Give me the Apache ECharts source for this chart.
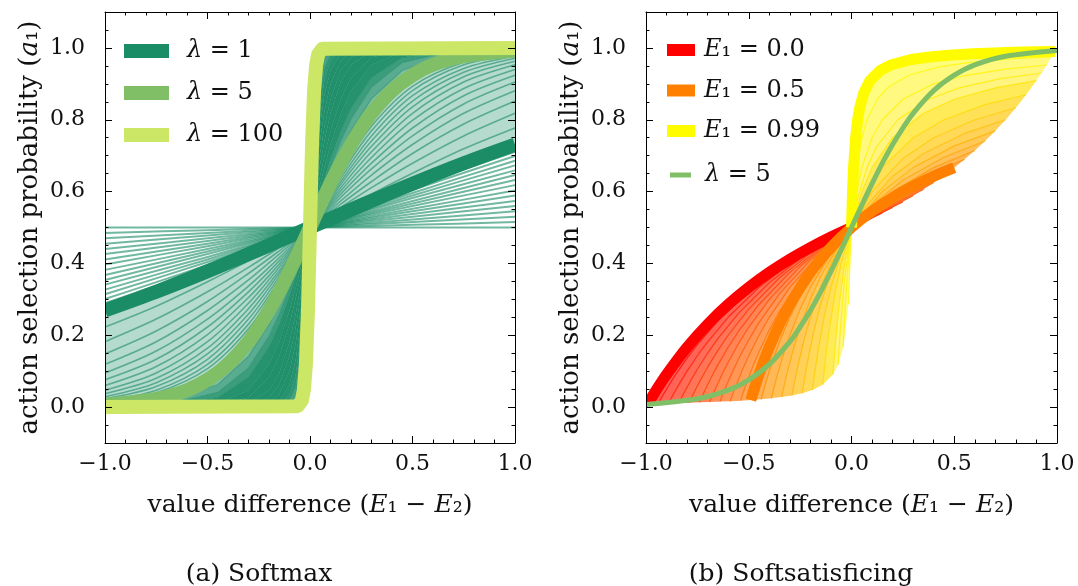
<!DOCTYPE html>
<html><head><meta charset="utf-8">
<script src="https://cdn.jsdelivr.net/npm/echarts@6/dist/echarts.min.js"></script>
<style>html,body{margin:0;padding:0;background:#fff}#c{width:1078px;height:586px}</style>
</head><body><div id="c"></div>
<script>
// ================= DATA =================
// ---- (a) Softmax ----
// thin curves, small lambda (nearly linear), sampled at xA
const xA = [-1, -0.5, 0, 0.5, 1];
const softLow = [
  [0.5,0.5,0.5,0.5,0.5],
  [0.485,0.4925,0.5,0.5075,0.515],
  [0.47,0.485,0.5,0.515,0.53],
  [0.455,0.4775,0.5,0.5225,0.545],
  [0.44,0.47,0.5,0.53,0.56],
  [0.426,0.4625,0.5,0.5375,0.574],
  [0.411,0.455,0.5,0.545,0.589],
  [0.397,0.448,0.5,0.552,0.603],
  [0.382,0.44,0.5,0.56,0.618],
  [0.368,0.433,0.5,0.567,0.632],
  [0.354,0.426,0.5,0.574,0.646],
  [0.341,0.418,0.5,0.582,0.659],
  [0.327,0.411,0.5,0.589,0.673],
  [0.314,0.404,0.5,0.596,0.686],
  [0.301,0.396,0.5,0.604,0.699],
  [0.289,0.389,0.5,0.611,0.711]
];
// thin curves between lambda=1 and lambda=5
const xB = [-1,-0.75,-0.5,-0.3,-0.15,0,0.15,0.3,0.5,0.75,1];
const softMid = [
  [0.223,0.281,0.349,0.407,0.453,0.5,0.547,0.593,0.651,0.719,0.777],
  [0.182,0.245,0.321,0.389,0.444,0.5,0.556,0.611,0.679,0.755,0.818],
  [0.148,0.212,0.294,0.372,0.435,0.5,0.565,0.628,0.706,0.788,0.852],
  [0.119,0.182,0.269,0.354,0.426,0.5,0.574,0.646,0.731,0.818,0.881],
  [0.095,0.156,0.245,0.337,0.416,0.5,0.584,0.663,0.755,0.844,0.905],
  [0.076,0.133,0.223,0.321,0.407,0.5,0.593,0.679,0.777,0.867,0.924],
  [0.06,0.113,0.202,0.305,0.398,0.5,0.602,0.695,0.798,0.887,0.94],
  [0.047,0.095,0.182,0.289,0.389,0.5,0.611,0.711,0.818,0.905,0.953],
  [0.037,0.08,0.164,0.274,0.38,0.5,0.62,0.726,0.836,0.92,0.963],
  [0.029,0.068,0.148,0.259,0.372,0.5,0.628,0.741,0.852,0.932,0.971],
  [0.023,0.057,0.133,0.245,0.363,0.5,0.637,0.755,0.867,0.943,0.977],
  [0.018,0.047,0.119,0.231,0.354,0.5,0.646,0.769,0.881,0.953,0.982],
  [0.014,0.04,0.107,0.218,0.346,0.5,0.654,0.782,0.893,0.96,0.986],
  [0.011,0.033,0.095,0.206,0.337,0.5,0.663,0.794,0.905,0.967,0.989],
  [0.009,0.028,0.085,0.194,0.329,0.5,0.671,0.806,0.915,0.972,0.991]
];
// thin curves between lambda=5 and lambda=100 (steep)
const xC = [-1,-0.7,-0.45,-0.3,-0.2,-0.15,-0.1,-0.07,-0.04,-0.02,0,0.02,0.04,0.07,0.1,0.15,0.2,0.3,0.45,0.7,1];
const softHigh = [
  [0.002,0.015,0.063,0.142,0.231,0.289,0.354,0.397,0.44,0.47,0.5,0.53,0.56,0.603,0.646,0.711,0.769,0.858,0.937,0.985,0.998],
  [0.001,0.007,0.041,0.109,0.198,0.259,0.332,0.38,0.43,0.465,0.5,0.535,0.57,0.62,0.668,0.741,0.802,0.891,0.959,0.993,0.999],
  [0,0.004,0.027,0.083,0.168,0.231,0.31,0.364,0.421,0.46,0.5,0.54,0.579,0.636,0.69,0.769,0.832,0.917,0.973,0.996,1],
  [0,0.001,0.011,0.047,0.119,0.182,0.269,0.332,0.401,0.45,0.5,0.55,0.599,0.668,0.731,0.818,0.881,0.953,0.989,0.999,1],
  [0,0,0.005,0.027,0.083,0.142,0.231,0.302,0.382,0.44,0.5,0.56,0.618,0.698,0.769,0.858,0.917,0.973,0.995,1,1],
  [0,0,0.001,0.011,0.047,0.095,0.182,0.259,0.354,0.426,0.5,0.574,0.646,0.741,0.818,0.905,0.953,0.989,0.999,1,1],
  [0,0,0,0.005,0.027,0.063,0.142,0.221,0.327,0.411,0.5,0.589,0.673,0.779,0.858,0.937,0.973,0.995,1,1,1],
  [0,0,0,0.001,0.012,0.036,0.1,0.177,0.293,0.392,0.5,0.608,0.707,0.823,0.9,0.964,0.988,0.999,1,1,1],
  [0,0,0,0,0.005,0.017,0.063,0.131,0.254,0.368,0.5,0.632,0.746,0.869,0.937,0.983,0.995,1,1,1,1],
  [0,0,0,0,0.001,0.007,0.036,0.09,0.211,0.341,0.5,0.659,0.789,0.91,0.964,0.993,0.999,1,1,1,1],
  [0,0,0,0,0,0.002,0.018,0.057,0.168,0.31,0.5,0.69,0.832,0.943,0.982,0.998,1,1,1,1,1],
  [0,0,0,0,0,0.001,0.007,0.029,0.119,0.269,0.5,0.731,0.881,0.971,0.993,0.999,1,1,1,1,1],
  [0,0,0,0,0,0,0.002,0.01,0.069,0.214,0.5,0.786,0.931,0.99,0.998,1,1,1,1,1,1],
  [0,0,0,0,0,0,0,0.004,0.039,0.168,0.5,0.832,0.961,0.996,1,1,1,1,1,1,1]
];
// highlighted curves
const xL1 = [-1,-0.75,-0.5,-0.25,0,0.25,0.5,0.75,1];
const yL1 = [0.269,0.321,0.378,0.438,0.5,0.562,0.622,0.679,0.731];
const xL5 = [-1,-0.75,-0.6,-0.5,-0.4,-0.3,-0.25,-0.2,-0.15,-0.1,-0.05,0,0.05,0.1,0.15,0.2,0.25,0.3,0.4,0.5,0.6,0.75,1];
const yL5 = [0.007,0.023,0.047,0.076,0.119,0.182,0.223,0.269,0.321,0.378,0.438,0.5,0.562,0.622,0.679,0.731,0.777,0.818,0.881,0.924,0.953,0.977,0.993];
const xL100 = [-1,-0.06,-0.04,-0.03,-0.02,-0.01,0,0.01,0.02,0.03,0.04,0.06,1];
const yL100 = [0,0.0025,0.018,0.047,0.119,0.269,0.5,0.731,0.881,0.953,0.982,0.9975,1];

// ---- (b) Softsatisficing ----
const e1Thin = [0.05,0.1,0.15,0.2,0.25,0.3,0.35,0.4,0.45,0.55,0.6,0.65,0.7,0.75,0.8,0.85,0.9,0.925,0.95,0.975];
const e2Grid = [0.99,0.98,0.96,0.93,0.9,0.85,0.8,0.7,0.55,0.4,0.2,0];
const satThin = [
  [0.0104,0.0206,0.0404,0.0686,0.0952,0.1364,0.1739,0.24,0.3214,0.3871,0.4571,0.5128],
  [0.011,0.0217,0.0426,0.0722,0.1,0.1429,0.1818,0.25,0.3333,0.4,0.4706,0.5263],
  [0.0116,0.023,0.0449,0.0761,0.1053,0.15,0.1905,0.2609,0.3462,0.4138,0.4848,0.5405],
  [0.0123,0.0244,0.0476,0.0805,0.1111,0.1579,0.2,0.2727,0.36,0.4286,0.5,0.5556],
  [0.0132,0.026,0.0506,0.0854,0.1176,0.1667,0.2105,0.2857,0.375,0.4444,0.5161,0.5714],
  [0.0141,0.0278,0.0541,0.0909,0.125,0.1765,0.2222,0.3,0.3913,0.4615,0.5333,0.5882],
  [0.0152,0.0299,0.058,0.0972,0.1333,0.1875,0.2353,0.3158,0.4091,0.48,0.5517,0.6061],
  [0.0164,0.0323,0.0625,0.1045,0.1429,0.2,0.25,0.3333,0.4286,0.5,0.5714,0.625],
  [0.0179,0.0351,0.0678,0.1129,0.1538,0.2143,0.2667,0.3529,0.45,0.5217,0.5926,0.6452],
  [0.0217,0.0426,0.0816,0.1346,0.1818,0.25,0.3077,0.4,0.5,0.5714,0.64,0.6897],
  [0.0244,0.0476,0.0909,0.1489,0.2,0.2727,0.3333,0.4286,0.5294,0.6,0.6667,0.7143],
  [0.0278,0.0541,0.1026,0.1667,0.2222,0.3,0.3636,0.4615,0.5625,0.6316,0.6957,0.7407],
  [0.0323,0.0625,0.1176,0.1892,0.25,0.3333,0.4,0.5,0.6,0.6667,0.7273,0.7692],
  [0.0385,0.0741,0.1379,0.2188,0.2857,0.375,0.4444,0.5455,0.6429,0.7059,0.7619,0.8],
  [0.0476,0.0909,0.1667,0.2593,0.3333,0.4286,0.5,0.6,0.6923,0.75,0.8,0.8333],
  [0.0625,0.1176,0.2105,0.3182,0.4,0.5,0.5714,0.6667,0.75,0.8,0.8421,0.8696],
  [0.0909,0.1667,0.2857,0.4118,0.5,0.6,0.6667,0.75,0.8182,0.8571,0.8889,0.9091],
  [0.1176,0.2105,0.3478,0.4828,0.5714,0.6667,0.7273,0.8,0.8571,0.8889,0.9143,0.9302],
  [0.1667,0.2857,0.4444,0.5833,0.6667,0.75,0.8,0.8571,0.9,0.9231,0.9412,0.9524],
  [0.2857,0.4444,0.6154,0.7368,0.8,0.8571,0.8889,0.9231,0.9474,0.96,0.9697,0.9756]
];
const e2Red = [0.99,0.95,0.9,0.8,0.7,0.6,0.5,0.4,0.3,0.2,0.1,0];
const yRed = [0.0099,0.0476,0.0909,0.1667,0.2308,0.2857,0.3333,0.375,0.4118,0.4444,0.4737,0.5];
const e2Orange = [0.99,0.97,0.94,0.9,0.85,0.8,0.7,0.6,0.5,0.4,0.3,0.2,0.1,0];
const yOrange = [0.0196,0.0566,0.1071,0.1667,0.2308,0.2857,0.375,0.4444,0.5,0.5455,0.5833,0.6154,0.6429,0.6667];
const e2Yellow = [0.99,0.985,0.98,0.97,0.96,0.95,0.93,0.9,0.85,0.8,0.7,0.6,0.5,0.4,0.3,0.2,0.1,0];
const yYellow = [0.5,0.6,0.6667,0.75,0.8,0.8333,0.875,0.9091,0.9375,0.9524,0.9677,0.9756,0.9804,0.9836,0.9859,0.9877,0.989,0.9901];

// tick labels
const xTicks = [-1, -0.5, 0, 0.5, 1];
const yTicks = [0, 0.2, 0.4, 0.6, 0.8, 1.0];

// ================= STYLE =================
const F = 'DejaVu Serif';
const TXT = '#111';
const GREEN_DARK = '#1a8c66', GREEN_MID = '#80bf66', GREEN_LIGHT = '#cce666';
const autumn = e => 'rgb(255,' + Math.round(255 * e) + ',0)';
const GRIDS = [
  { left: 105, top: 12, width: 410, height: 431 },
  { left: 646, top: 12, width: 411, height: 431 }
];

const toPts = (xs, ys) => xs.map((x, i) => [x, ys[i]]);
const satPts = (e1, e2s, ys) => e2s.map((e2, i) => [+(e1 - e2).toFixed(4), ys[i]]);

function lineS(name, pts, color, width, opacity, z, smooth, xi, yi) {
  return { type: 'line', name: name, data: pts, xAxisIndex: xi, yAxisIndex: yi,
    symbol: 'none', showSymbol: false, silent: true, z: z, smooth: smooth || false,
    lineStyle: { color: color, width: width, opacity: opacity, cap: 'butt', join: 'round' },
    itemStyle: { color: color }, emphasis: { disabled: true }, animation: false };
}
function bandS(bands, xi, yi) {
  return { type: 'custom', xAxisIndex: xi, yAxisIndex: yi, silent: true, z: 1, animation: false,
    data: bands.map(b => b.pts[0]),
    renderItem: function (params, api) {
      const b = bands[params.dataIndex];
      return { type: 'polygon', shape: { points: b.pts.map(p => api.coord(p)) },
        style: { fill: b.color, opacity: b.opacity, stroke: null } };
    } };
}

const series = [];
// ---- panel (a) ----
const leftLines = [];
softLow.forEach(ys => leftLines.push(toPts(xA, ys)));
const iL1 = leftLines.length; leftLines.push(toPts(xL1, yL1));
softMid.forEach(ys => leftLines.push(toPts(xB, ys)));
const iL5 = leftLines.length; leftLines.push(toPts(xL5, yL5));
softHigh.forEach(ys => leftLines.push(toPts(xC, ys)));
leftLines.push(toPts(xL100, yL100));
const highOpac = [0.55, 0.72, 0.85, 0.95, 0.97, 0.97, 0.97, 0.97, 0.97, 0.95, 0.9, 0.8, 0.68, 0.56, 0.45];
const leftBands = [];
for (let k = iL1; k < leftLines.length - 1; k++) {
  const op = k < iL5 ? 0.32 : highOpac[k - iL5];
  leftBands.push({ pts: leftLines[k].concat(leftLines[k + 1].slice().reverse()), color: GREEN_DARK, opacity: op });
}
series.push(bandS(leftBands, 0, 0));
softLow.forEach((ys, i) => series.push(lineS('a-low-' + i, toPts(xA, ys), GREEN_DARK, 2, 0.62, 2, 0.3, 0, 0)));
softMid.forEach((ys, i) => series.push(lineS('a-mid-' + i, toPts(xB, ys), GREEN_DARK, 1.6, 0.6, 2, 0.3, 0, 0)));
softHigh.forEach((ys, i) => series.push(lineS('a-high-' + i, toPts(xC, ys), GREEN_DARK, 1.2, 0.5, 2, false, 0, 0)));
series.push(lineS('λ = 1', toPts(xL1, yL1), GREEN_DARK, 14, 1, 3, 0.3, 0, 0));
series.push(lineS('λ = 5', toPts(xL5, yL5), GREEN_MID, 14, 1, 4, 0.3, 0, 0));
series.push(lineS('λ = 100', toPts(xL100, yL100), GREEN_LIGHT, 14, 1, 5, false, 0, 0));

// ---- panel (b) ----
const rightLines = [{ e1: 0, pts: satPts(0, e2Red, yRed) }];
e1Thin.forEach((e1, i) => {
  if (e1 > 0.5 && rightLines[rightLines.length - 1].e1 < 0.5) rightLines.push({ e1: 0.5, pts: satPts(0.5, e2Orange, yOrange) });
  rightLines.push({ e1: e1, pts: satPts(e1, e2Grid, satThin[i]) });
});
rightLines.push({ e1: 0.99, pts: satPts(0.99, e2Yellow, yYellow) });
const rightBands = [];
for (let k = 0; k < rightLines.length - 1; k++) {
  const a = rightLines[k], b = rightLines[k + 1];
  rightBands.push({ pts: a.pts.concat(b.pts.slice().reverse()), color: autumn((a.e1 + b.e1) / 2), opacity: a.e1 >= 0.9 ? 0.5 : 0.66 });
}
series.push(bandS(rightBands, 2, 4));
e1Thin.forEach((e1, i) => series.push(lineS('b-thin-' + i, satPts(e1, e2Grid, satThin[i]), autumn(e1), 1.2, 0.8, 2, false, 2, 4)));
series.push(lineS('E1 = 0.0', satPts(0, e2Red, yRed), '#ff0000', 11, 1, 3, 0.3, 2, 4));
series.push(lineS('E1 = 0.5', satPts(0.5, e2Orange, yOrange), '#ff8000', 11, 1, 4, 0.3, 2, 4));
series.push(lineS('E1 = 0.99', satPts(0.99, e2Yellow, yYellow), '#fffc00', 11, 1, 5, false, 2, 4));
series.push(lineS('λ = 5 (b)', toPts(xL5, yL5), GREEN_MID, 5, 1, 6, 0.3, 2, 4));

// ================= AXES =================
const axLine = { color: '#000', width: 1 };
const fmtX = v => (v < 0 ? '\u2212' : '') + Math.abs(v).toFixed(1);
const AXZ = 60;
function xAxes(g) {
  const common = { type: 'value', gridIndex: g, min: -1, max: 1, interval: 0.5, z: AXZ,
    axisLine: { show: true, onZero: false, lineStyle: axLine },
    axisTick: { show: true, inside: true, length: 7, lineStyle: axLine },
    minorTick: { show: true, splitNumber: 5, length: 3.5, lineStyle: axLine },
    splitLine: { show: false }, minorSplitLine: { show: false } };
  return [
    Object.assign({}, common, { position: 'bottom',
      axisLabel: { show: true, margin: 10, fontFamily: F, fontSize: 22, color: TXT, formatter: fmtX, showMinLabel: true, showMaxLabel: true },
      name: 'value difference ({i|E}\u2081 \u2212 {i|E}\u2082)', nameLocation: 'middle', nameGap: 50,
      nameTextStyle: { fontFamily: F, fontSize: 25, color: TXT, rich: { i: { fontStyle: 'italic', fontFamily: F, fontSize: 25, color: TXT } } } }),
    Object.assign({}, common, { position: 'top', axisLabel: { show: false } })
  ];
}
function yAxes(g) {
  const base = { type: 'value', gridIndex: g, min: -0.1, max: 1.1, z: AXZ, splitLine: { show: false } };
  const minor = Object.assign({}, base, { interval: 0.05,
    axisLine: { show: true, onZero: false, lineStyle: axLine },
    axisTick: { show: true, inside: true, length: 3.5, lineStyle: axLine }, axisLabel: { show: false } });
  const major = Object.assign({}, base, {
    axisLine: { show: false, onZero: false },
    axisTick: { show: true, inside: true, length: 7, customValues: yTicks, lineStyle: axLine } });
  return [
    Object.assign({}, minor, { position: 'left' }),
    Object.assign({}, major, { position: 'left',
      axisLabel: { show: true, customValues: yTicks, margin: 20, fontFamily: F, fontSize: 22, color: TXT, formatter: v => v.toFixed(1) },
      name: 'action selection probability ({i|a}\u2081)', nameLocation: 'middle', nameGap: 62, nameRotate: 90,
      nameTextStyle: { fontFamily: F, fontSize: 26, color: TXT, rich: { i: { fontStyle: 'italic', fontFamily: F, fontSize: 26, color: TXT } } } }),
    Object.assign({}, minor, { position: 'right' }),
    Object.assign({}, major, { position: 'right', axisLabel: { show: false } })
  ];
}

// white strips just outside each plot frame (hide the overhang of thick line caps)
const masks = [];
GRIDS.forEach(g => {
  const m = 9;
  masks.push({ type: 'rect', z: 50, silent: true, shape: { x: g.left - m, y: g.top - m, width: m, height: g.height + 2 * m }, style: { fill: '#fff' } });
  masks.push({ type: 'rect', z: 50, silent: true, shape: { x: g.left + g.width, y: g.top - m, width: m, height: g.height + 2 * m }, style: { fill: '#fff' } });
  masks.push({ type: 'rect', z: 50, silent: true, shape: { x: g.left - m, y: g.top - m, width: g.width + 2 * m, height: m }, style: { fill: '#fff' } });
  masks.push({ type: 'rect', z: 50, silent: true, shape: { x: g.left - m, y: g.top + g.height, width: g.width + 2 * m, height: m }, style: { fill: '#fff' } });
});

// ================= LEGENDS =================
const legendText = {
  'λ = 1': '{i|λ} = 1', 'λ = 5': '{i|λ} = 5', 'λ = 100': '{i|λ} = 100',
  'E1 = 0.0': '{i|E}\u2081 = 0.0', 'E1 = 0.5': '{i|E}\u2081 = 0.5', 'E1 = 0.99': '{i|E}\u2081 = 0.99',
  'λ = 5 (b)': '{i|λ} = 5'
};
function legend(names, left, top, w, h, gap, pad, fs) {
  return { show: true, orient: 'vertical', left: left, top: top, itemWidth: w, itemHeight: h, itemGap: gap,
    icon: 'rect', selectedMode: false, data: names, padding: 0, z: 70,
    itemStyle: { borderWidth: 0 },
    formatter: n => legendText[n],
    textStyle: { fontFamily: F, fontSize: fs, color: TXT, lineHeight: 24, padding: [0, 0, 0, pad],
      rich: { i: { fontStyle: 'italic', fontFamily: F, fontSize: fs, color: TXT, lineHeight: 24 } } } };
}

const option = {
  backgroundColor: '#fff',
  animation: false,
  grid: GRIDS.map(g => Object.assign({ outerBoundsMode: 'none', containLabel: false }, g)),
  xAxis: xAxes(0).concat(xAxes(1)),
  yAxis: yAxes(0).concat(yAxes(1)),
  legend: [
    legend(['λ = 1', 'λ = 5', 'λ = 100'], 124, 39, 45, 14, 18, 13, 24),
    legend(['E1 = 0.0', 'E1 = 0.5', 'E1 = 0.99'], 667, 38, 28, 12, 16.5, 4, 24),
    legend(['λ = 5 (b)'], 670, 163, 21, 5, 10, 9, 24)
  ],
  title: [
    { text: '(a) Softmax', left: 259, top: 562, textAlign: 'center', padding: 0,
      textStyle: { fontFamily: F, fontSize: 25, fontWeight: 'normal', color: TXT } },
    { text: '(b) Softsatisficing', left: 801, top: 562, textAlign: 'center', padding: 0,
      textStyle: { fontFamily: F, fontSize: 25, fontWeight: 'normal', color: TXT } }
  ],
  graphic: { elements: masks },
  series: series
};
const chart = echarts.init(document.getElementById('c'), null, { renderer: 'canvas' });
chart.setOption(option);
</script>
</body></html>
